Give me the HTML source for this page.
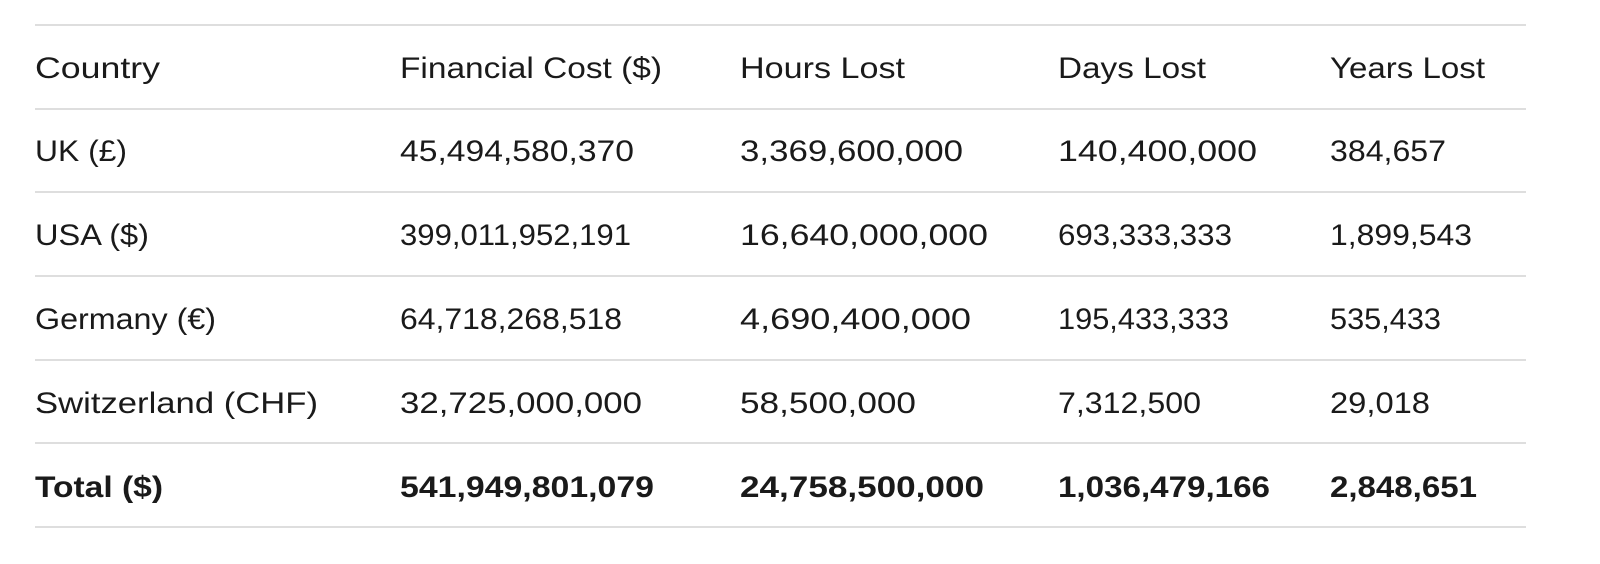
<!DOCTYPE html>
<html><head><style>html,body{margin:0;padding:0;background:#fff;}svg{display:block}</style></head>
<body>
<svg width="1600" height="564" xmlns="http://www.w3.org/2000/svg" font-family="Liberation Sans, sans-serif" font-size="30" fill="#1a1a1a">
<g stroke="#dedede" stroke-width="2">
<line x1="35" x2="1526" y1="25" y2="25"/>
<line x1="35" x2="1526" y1="109" y2="109"/>
<line x1="35" x2="1526" y1="192" y2="192"/>
<line x1="35" x2="1526" y1="276" y2="276"/>
<line x1="35" x2="1526" y1="360" y2="360"/>
<line x1="35" x2="1526" y1="443" y2="443"/>
<line x1="35" x2="1526" y1="527" y2="527"/>
</g>
<g lengthAdjust="spacingAndGlyphs">
<text x="35" y="78" textLength="125" lengthAdjust="spacingAndGlyphs">Country</text>
<text x="400" y="78" textLength="262" lengthAdjust="spacingAndGlyphs">Financial Cost ($)</text>
<text x="740" y="78" textLength="165" lengthAdjust="spacingAndGlyphs">Hours Lost</text>
<text x="1058" y="78" textLength="148" lengthAdjust="spacingAndGlyphs">Days Lost</text>
<text x="1330" y="78" textLength="155" lengthAdjust="spacingAndGlyphs">Years Lost</text>

<text x="35" y="161" textLength="92" lengthAdjust="spacingAndGlyphs">UK (£)</text>
<text x="400" y="161" textLength="234" lengthAdjust="spacingAndGlyphs">45,494,580,370</text>
<text x="740" y="161" textLength="223" lengthAdjust="spacingAndGlyphs">3,369,600,000</text>
<text x="1058" y="161" textLength="199" lengthAdjust="spacingAndGlyphs">140,400,000</text>
<text x="1330" y="161" textLength="116" lengthAdjust="spacingAndGlyphs">384,657</text>

<text x="35" y="245" textLength="114" lengthAdjust="spacingAndGlyphs">USA ($)</text>
<text x="400" y="245" textLength="231" lengthAdjust="spacingAndGlyphs">399,011,952,191</text>
<text x="740" y="245" textLength="248" lengthAdjust="spacingAndGlyphs">16,640,000,000</text>
<text x="1058" y="245" textLength="174" lengthAdjust="spacingAndGlyphs">693,333,333</text>
<text x="1330" y="245" textLength="142" lengthAdjust="spacingAndGlyphs">1,899,543</text>

<text x="35" y="329" textLength="181" lengthAdjust="spacingAndGlyphs">Germany (€)</text>
<text x="400" y="329" textLength="222" lengthAdjust="spacingAndGlyphs">64,718,268,518</text>
<text x="740" y="329" textLength="231" lengthAdjust="spacingAndGlyphs">4,690,400,000</text>
<text x="1058" y="329" textLength="171" lengthAdjust="spacingAndGlyphs">195,433,333</text>
<text x="1330" y="329" textLength="111" lengthAdjust="spacingAndGlyphs">535,433</text>

<text x="35" y="413" textLength="283" lengthAdjust="spacingAndGlyphs">Switzerland (CHF)</text>
<text x="400" y="413" textLength="242" lengthAdjust="spacingAndGlyphs">32,725,000,000</text>
<text x="740" y="413" textLength="176" lengthAdjust="spacingAndGlyphs">58,500,000</text>
<text x="1058" y="413" textLength="143" lengthAdjust="spacingAndGlyphs">7,312,500</text>
<text x="1330" y="413" textLength="100" lengthAdjust="spacingAndGlyphs">29,018</text>

<g font-weight="bold">
<text x="35" y="497" textLength="128" lengthAdjust="spacingAndGlyphs">Total ($)</text>
<text x="400" y="497" textLength="254" lengthAdjust="spacingAndGlyphs">541,949,801,079</text>
<text x="740" y="497" textLength="244" lengthAdjust="spacingAndGlyphs">24,758,500,000</text>
<text x="1058" y="497" textLength="212" lengthAdjust="spacingAndGlyphs">1,036,479,166</text>
<text x="1330" y="497" textLength="147" lengthAdjust="spacingAndGlyphs">2,848,651</text>
</g>
</g>
</svg>
</body></html>
